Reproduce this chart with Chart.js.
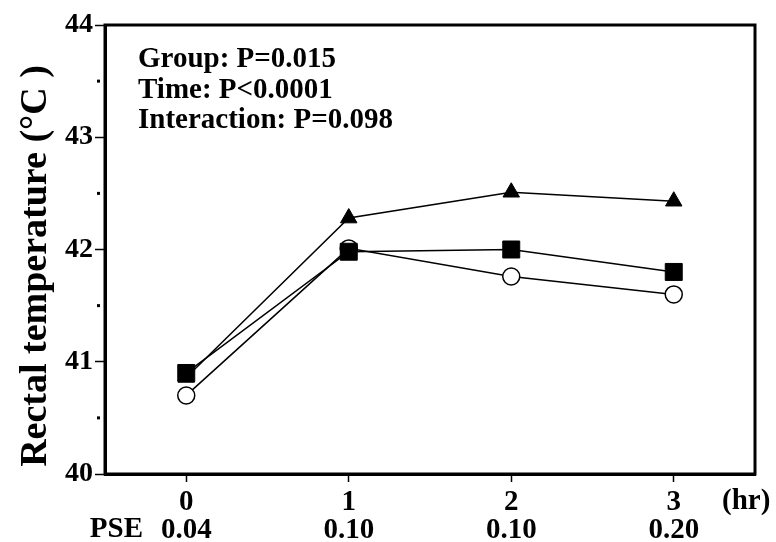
<!DOCTYPE html>
<html>
<head>
    <title>Rectal temperature</title>
    <script src="https://cdn.jsdelivr.net/npm/chart.js"></script>
    <style>
        body { margin: 0; background: #fff; }
        .chart { width: 776px; height: 542px; }
    </style>
</head>
<body>
    <div class="chart">
        <canvas id="tempChart" width="776" height="542"></canvas>
    </div>

    <script>
        // data
        const hours = [0, 1, 2, 3];
        const pse = ['0.04', '0.10', '0.10', '0.20'];
        const squareTemp = [40.90, 41.98, 42.00, 41.80];
        const triangleTemp = [40.86, 42.28, 42.51, 42.43];
        const circleTemp = [40.70, 42.01, 41.76, 41.60];
        const yTicks = [40, 41, 42, 43, 44];
        const yMinorTicks = [40.5, 41.5, 42.5, 43.5];
        const stats = ['Group: P=0.015', 'Time: P<0.0001', 'Interaction: P=0.098'];

        const serif = "'Liberation Serif', 'Times New Roman', serif";

        function points(values) {
            return hours.map((h, i) => ({ x: h, y: values[i] }));
        }

        // frame, minor ticks and extra text
        const extras = {
            id: 'extras',
            beforeDatasetsDraw(chart) {
                const ctx = chart.ctx;
                const a = chart.chartArea;
                const y = chart.scales.y;
                ctx.save();
                ctx.strokeStyle = '#000';
                ctx.lineWidth = 3;
                ctx.strokeRect(a.left, a.top, a.right - a.left, a.bottom - a.top);
                ctx.fillStyle = '#000';
                yMinorTicks.forEach(v => {
                    const py = y.getPixelForValue(v);
                    ctx.fillRect(a.left - 8, py - 1.5, 3, 3);
                });
                ctx.restore();
            },
            afterDraw(chart) {
                const ctx = chart.ctx;
                ctx.save();
                ctx.fillStyle = '#000';
                ctx.textBaseline = 'middle';
                ctx.font = 'bold 29px ' + serif;
                ctx.textAlign = 'left';
                stats.forEach((s, i) => ctx.fillText(s, 138, 60 + i * 30.5));

                ctx.font = 'bold 29px ' + serif;
                ctx.textAlign = 'left';
                ctx.fillText('(hr)', 722, 502);
                ctx.textAlign = 'right';
                ctx.fillText('PSE', 143, 530);

                // y axis title
                ctx.translate(36, 266);
                ctx.rotate(-Math.PI / 2);
                ctx.textAlign = 'center';
                ctx.font = 'bold 38px ' + serif;
                ctx.fillText('Rectal temperature (°C )', 0, 0);
                ctx.restore();
            }
        };

        const ctx = document.getElementById('tempChart').getContext('2d');
        new Chart(ctx, {
            type: 'line',
            data: {
                datasets: [{
                    data: points(squareTemp),
                    borderColor: '#000',
                    borderWidth: 1.5,
                    pointStyle: 'rect',
                    pointRadius: 12,
                    pointBackgroundColor: '#000',
                    pointBorderColor: '#000',
                    pointBorderWidth: 1,
                    order: 1
                }, {
                    data: points(triangleTemp),
                    borderColor: '#000',
                    borderWidth: 1.5,
                    pointStyle: 'triangle',
                    pointRadius: 9.5,
                    pointBackgroundColor: '#000',
                    pointBorderColor: '#000',
                    pointBorderWidth: 1,
                    order: 2
                }, {
                    data: points(circleTemp),
                    borderColor: '#000',
                    borderWidth: 1.5,
                    pointStyle: 'circle',
                    pointRadius: 8.5,
                    pointBackgroundColor: '#fff',
                    pointBorderColor: '#000',
                    pointBorderWidth: 1.5,
                    order: 3
                }]
            },
            options: {
                responsive: false,
                animation: false,
                layout: { padding: { left: 0, right: 21, top: 25, bottom: 0 } },
                plugins: {
                    legend: { display: false },
                    tooltip: { enabled: false }
                },
                scales: {
                    x: {
                        type: 'linear',
                        min: -0.5,
                        max: 3.5,
                        afterBuildTicks: scale => { scale.ticks = hours.map(v => ({ value: v })); },
                        afterFit: scale => { scale.height = 68; },
                        grid: { drawOnChartArea: false, color: '#000', tickLength: 8, tickWidth: 1.5 },
                        border: { display: true, color: '#000', width: 3 },
                        ticks: {
                            color: '#000',
                            padding: 6,
                            maxRotation: 0,
                            font: { family: serif, size: 29, weight: 'bold', lineHeight: 0.97 },
                            callback: (value) => {
                                const i = hours.indexOf(value);
                                return [String(value), pse[i]];
                            }
                        }
                    },
                    y: {
                        min: 40,
                        max: 44,
                        afterBuildTicks: scale => { scale.ticks = yTicks.map(v => ({ value: v })); },
                        afterFit: scale => { scale.width = 105; },
                        grid: { drawOnChartArea: false, color: '#000', tickLength: 10, tickWidth: 1.5 },
                        border: { display: true, color: '#000', width: 3 },
                        ticks: {
                            color: '#000',
                            padding: 2,
                            font: { family: serif, size: 28, weight: 'bold' }
                        }
                    }
                }
            },
            plugins: [extras]
        });
    </script>
</body>
</html>
